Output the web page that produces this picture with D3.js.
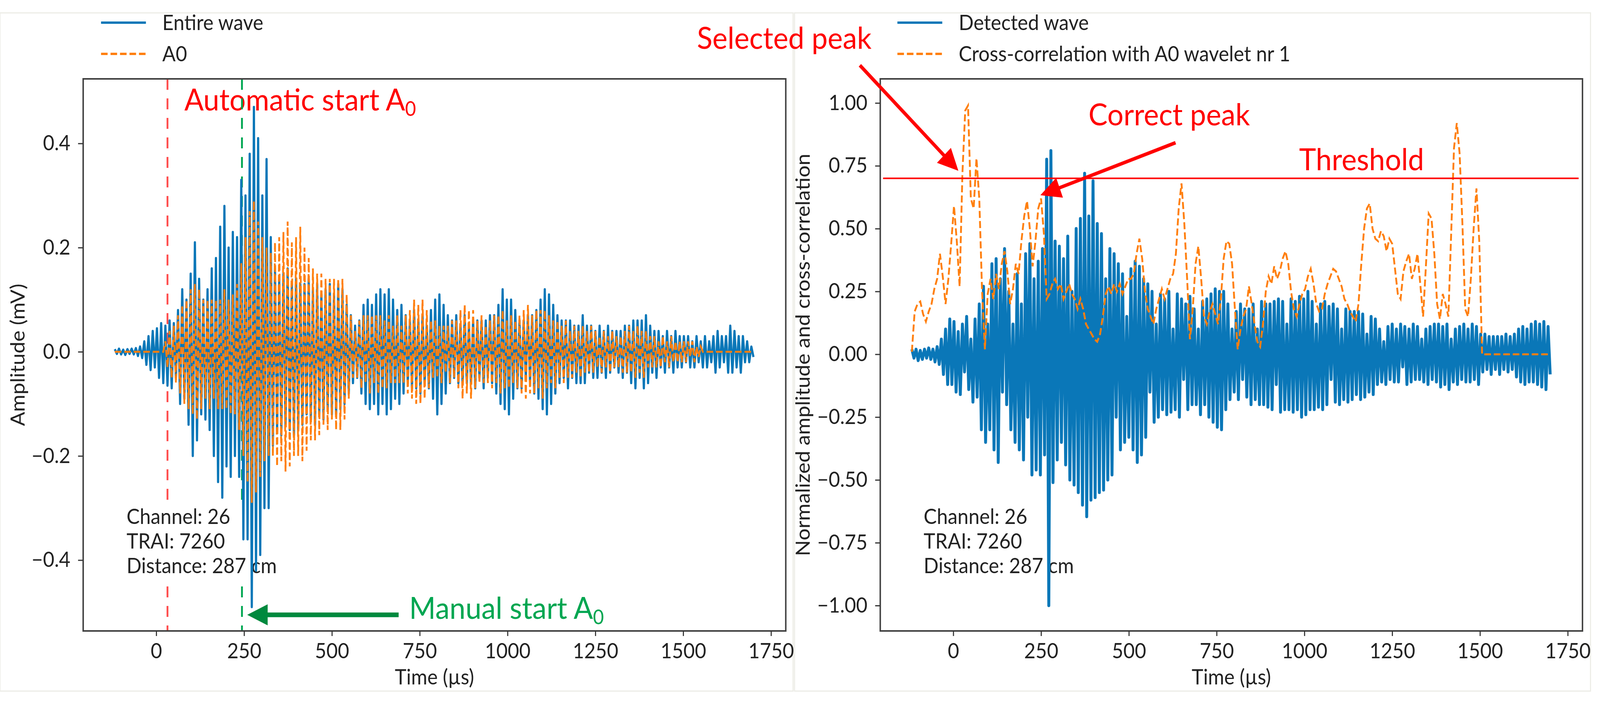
<!DOCTYPE html>
<html>
<head>
<meta charset="utf-8">
<script src="https://cdn.jsdelivr.net/npm/d3@7"></script>
<style>
  html, body { margin: 0; padding: 0; background: #fff; overflow: hidden; }
  #chart { display: block; width: 100vw; height: 100vh; }
  text { font-family: Lato, "Open Sans", sans-serif; }
</style>
</head>
<body>
<svg id="chart" viewBox="0 0 4386 1798" preserveAspectRatio="none"></svg>
<script>
// sampling grid of the traces (microseconds)
var waveStart = -118, waveStep = 6, corrStep = 8;

// left panel: entire wave (mV), one value per 6 us
var entireWave = [
  0.005,-0.004,0.006,-0.005,0.004,-0.006,0.005,-0.004,0.006,-0.005,
  0.007,-0.008,0.01,-0.012,0.02,-0.025,0.03,-0.035,0.04,-0.03,
  0.045,-0.05,0.055,-0.06,0.05,-0.065,0.06,-0.07,0.055,-0.05,
  0.08,-0.1,0.12,-0.09,0.1,-0.14,0.15,-0.2,0.21,-0.17,
  0.14,-0.12,0.1,-0.13,0.12,-0.15,0.16,-0.2,0.18,-0.25,
  0.24,-0.28,0.28,-0.22,0.2,-0.24,0.23,-0.2,0.22,-0.24,
  0.33,-0.36,0.3,-0.36,0.38,-0.49,0.47,-0.42,0.41,-0.39,
  0.3,-0.3,0.37,-0.3,0.22,-0.18,0.16,-0.15,0.14,-0.16,
  0.15,-0.14,0.16,-0.15,0.13,-0.16,0.14,-0.15,0.13,-0.14,
  0.13,-0.12,0.14,-0.13,0.12,-0.14,0.13,-0.12,0.11,-0.13,
  0.12,-0.11,0.13,-0.12,0.11,-0.12,0.13,-0.11,0.12,-0.1,
  0.09,-0.08,0.07,-0.06,0.05,-0.05,0.06,-0.08,0.09,-0.1,
  0.1,-0.11,0.09,-0.1,0.11,-0.12,0.12,-0.1,0.11,-0.12,
  0.12,-0.11,0.1,-0.09,0.08,-0.1,0.09,-0.08,0.07,-0.06,
  0.06,-0.07,0.08,-0.07,0.06,-0.08,0.07,-0.06,0.05,-0.07,
  0.08,-0.09,0.1,-0.12,0.11,-0.1,0.09,-0.08,0.07,-0.06,
  0.06,-0.05,0.07,-0.06,0.05,-0.06,0.07,-0.06,0.05,-0.06,
  0.06,-0.07,0.06,-0.05,0.06,-0.07,0.06,-0.05,0.07,-0.06,
  0.07,-0.08,0.09,-0.1,0.12,-0.11,0.1,-0.12,0.1,-0.09,
  0.08,-0.07,0.06,-0.07,0.06,-0.05,0.07,-0.06,0.07,-0.08,
  0.08,-0.09,0.1,-0.11,0.12,-0.12,0.11,-0.1,0.09,-0.08,
  0.07,-0.06,0.06,-0.05,0.06,-0.07,0.06,-0.05,0.05,-0.06,
  0.05,-0.06,0.07,-0.06,0.05,-0.04,0.05,-0.05,0.04,-0.05,
  0.05,-0.04,0.04,-0.05,0.05,-0.04,0.04,-0.03,0.04,-0.04,
  0.04,-0.05,0.05,-0.04,0.05,-0.06,0.06,-0.07,0.06,-0.05,
  0.06,-0.07,0.07,-0.06,0.05,-0.04,0.04,-0.05,0.04,-0.03,
  0.03,-0.04,0.04,-0.03,0.03,-0.04,0.04,-0.03,0.03,-0.03,
  0.03,-0.02,0.03,-0.03,0.02,-0.03,0.03,-0.02,0.02,-0.03,
  0.03,-0.03,0.02,-0.02,0.03,-0.04,0.04,-0.03,0.03,-0.02,
  0.03,-0.04,0.05,-0.04,0.04,-0.03,0.03,-0.04,0.03,-0.02,
  0.02,-0.02,0.01,-0.01
];

// left panel: A0 part (mV), same grid
var a0Wave = [
  0,0,0,0,0,0,0,0,0,0,
  0,0,0,0,0,0,0,0,0,0,
  0,0,0,0,0.02,-0.03,0.04,-0.05,0.05,-0.06,
  0.07,-0.08,0.09,-0.1,0.1,-0.11,0.12,-0.12,0.13,-0.13,
  0.12,-0.11,0.1,-0.09,0.1,-0.11,0.1,-0.09,0.1,-0.11,
  0.1,-0.11,0.12,-0.11,0.1,-0.12,0.11,-0.12,0.13,-0.15,
  0.17,-0.2,0.22,-0.25,0.27,-0.29,0.29,-0.27,0.25,-0.24,
  0.22,-0.21,0.2,-0.2,0.19,-0.2,0.21,-0.22,0.22,-0.21,
  0.23,-0.23,0.25,-0.22,0.21,-0.2,0.22,-0.2,0.24,-0.21,
  0.2,-0.19,0.18,-0.17,0.16,-0.17,0.15,-0.16,0.15,-0.14,
  0.14,-0.15,0.14,-0.13,0.14,-0.15,0.14,-0.15,0.14,-0.13,
  0.11,-0.09,0.07,-0.05,0.04,-0.05,0.06,-0.07,0.07,-0.06,
  0.07,-0.08,0.07,-0.06,0.07,-0.08,0.07,-0.07,0.06,-0.07,
  0.07,-0.06,0.05,-0.06,0.07,-0.06,0.05,-0.06,0.07,-0.08,
  0.08,-0.09,0.1,-0.1,0.09,-0.1,0.1,-0.09,0.08,-0.07,
  0.06,-0.05,0.06,-0.05,0.05,-0.06,0.05,-0.04,0.05,-0.06,
  0.06,-0.05,0.06,-0.07,0.08,-0.09,0.09,-0.08,0.08,-0.09,
  0.08,-0.07,0.06,-0.06,0.07,-0.06,0.05,-0.06,0.06,-0.07,
  0.07,-0.06,0.07,-0.08,0.08,-0.07,0.06,-0.07,0.07,-0.06,
  0.06,-0.07,0.07,-0.08,0.08,-0.09,0.09,-0.08,0.07,-0.08,
  0.08,-0.07,0.08,-0.09,0.08,-0.07,0.07,-0.06,0.06,-0.07,
  0.06,-0.05,0.05,-0.06,0.06,-0.05,0.04,-0.05,0.05,-0.04,
  0.04,-0.05,0.05,-0.04,0.04,-0.04,0.05,-0.04,0.04,-0.03,
  0.03,-0.04,0.04,-0.03,0.03,-0.04,0.04,-0.03,0.03,-0.03,
  0.03,-0.04,0.04,-0.04,0.05,-0.04,0.04,-0.05,0.05,-0.04,
  0.04,-0.05,0.04,-0.03,0.03,-0.03,0.03,-0.03,0.02,-0.03,
  0.03,-0.02,0.02,-0.03,0.03,-0.02,0.02,-0.02,0.02,-0.02,
  0.02,-0.02,0.02,-0.01,0.02,-0.02,0.01,-0.01,0.01,0,
  0,0,0,0,0,0,0,0,0,0,
  0,0,0,0,0,0,0,0,0,0,
  0,0,0,0
];

// right panel: detected wave (normalized), same grid
var detectedWave = [
  0.02,-0.015,0.02,-0.025,0.015,-0.02,0.02,-0.015,0.025,-0.02,
  0.02,-0.03,0.03,-0.04,0.06,-0.08,0.1,-0.12,0.14,-0.12,
  0.13,-0.15,0.09,-0.16,0.12,-0.07,0.15,-0.14,0.06,-0.19,
  0.14,-0.17,0.2,-0.3,0.27,-0.35,0.12,-0.3,0.36,-0.38,
  0.38,-0.43,0.3,-0.15,0.42,-0.2,0.25,-0.3,0.12,-0.35,
  0.32,-0.38,0.2,-0.42,0.4,-0.25,0.44,-0.48,0.3,-0.46,
  0.37,-0.48,0.42,-0.4,0.776,-1.0,0.81,-0.51,0.45,-0.42,
  0.43,-0.35,0.38,-0.44,0.47,-0.5,0.25,-0.52,0.5,-0.55,
  0.54,-0.6,0.72,-0.646,0.55,-0.58,0.69,-0.57,0.52,-0.55,
  0.48,-0.54,0.3,-0.5,0.42,-0.48,0.4,-0.25,0.36,-0.38,
  0.32,-0.35,0.15,-0.33,0.34,-0.38,0.37,-0.43,0.35,-0.4,
  0.3,-0.33,0.28,-0.15,0.25,-0.27,0.12,-0.25,0.24,-0.22,
  0.22,-0.24,0.25,-0.23,0.1,-0.22,0.24,-0.25,0.22,-0.1,
  0.2,-0.22,0.23,-0.2,0.18,-0.2,0.1,-0.24,0.21,-0.2,
  0.22,-0.25,0.24,-0.27,0.26,-0.29,0.25,-0.3,0.25,-0.22,
  0.2,-0.18,0.1,-0.15,0.17,-0.18,0.2,-0.1,0.18,-0.17,
  0.18,-0.2,0.2,-0.18,0.1,-0.2,0.21,-0.2,0.2,-0.21,
  0.2,-0.22,0.21,-0.12,0.22,-0.23,0.21,-0.22,0.12,-0.22,
  0.22,-0.23,0.21,-0.22,0.23,-0.25,0.22,-0.24,0.25,-0.22,
  0.21,-0.22,0.12,-0.21,0.2,-0.22,0.21,-0.2,0.19,-0.1,
  0.2,-0.19,0.18,-0.2,0.1,-0.18,0.18,-0.19,0.17,-0.18,
  0.17,-0.16,0.17,-0.18,0.16,-0.17,0.08,-0.15,0.15,-0.16,
  0.14,-0.12,0.1,-0.11,0.05,-0.12,0.11,-0.1,0.12,-0.11,
  0.1,-0.11,0.12,-0.05,0.11,-0.12,0.1,-0.11,0.12,-0.1,
  0.11,-0.1,0.06,-0.11,0.1,-0.12,0.11,-0.1,0.12,-0.11,
  0.12,-0.13,0.11,-0.12,0.12,-0.14,0.06,-0.11,0.1,-0.12,
  0.11,-0.1,0.12,-0.11,0.1,-0.11,0.12,-0.1,0.11,-0.12,
  0.08,-0.07,0.08,-0.06,0.07,-0.08,0.07,-0.06,0.07,-0.08,
  0.07,-0.06,0.08,-0.07,0.07,-0.06,0.08,-0.09,0.1,-0.11,
  0.11,-0.12,0.1,-0.11,0.12,-0.11,0.13,-0.12,0.12,-0.13,
  0.13,-0.14,0.11,-0.08
];

// right panel: cross-correlation with A0 wavelet nr 1, one value per 8 us
var crossCorr = [
  0.01,0.17,0.20,0.21,0.16,0.13,0.17,0.20,0.26,0.30,
  0.40,0.31,0.20,0.30,0.44,0.59,0.45,0.27,0.72,0.97,
  0.99,0.62,0.58,0.78,0.62,0.25,0.02,0.24,0.30,0.22,
  0.32,0.26,0.36,0.41,0.33,0.20,0.26,0.36,0.32,0.45,
  0.55,0.61,0.50,0.35,0.45,0.58,0.62,0.48,0.22,0.24,
  0.28,0.30,0.26,0.28,0.22,0.25,0.28,0.24,0.22,0.18,
  0.22,0.18,0.12,0.10,0.08,0.06,0.05,0.08,0.15,0.24,
  0.27,0.24,0.28,0.25,0.28,0.24,0.27,0.30,0.30,0.32,
  0.40,0.46,0.38,0.25,0.18,0.15,0.12,0.18,0.22,0.26,
  0.22,0.26,0.30,0.32,0.40,0.58,0.68,0.52,0.30,0.06,
  0.18,0.36,0.43,0.30,0.15,0.12,0.17,0.20,0.16,0.12,
  0.22,0.38,0.45,0.44,0.36,0.18,0.02,0.10,0.15,0.18,
  0.27,0.20,0.12,0.05,0.03,0.12,0.25,0.31,0.28,0.35,
  0.30,0.33,0.38,0.41,0.36,0.25,0.18,0.15,0.20,0.24,
  0.26,0.31,0.34,0.28,0.20,0.17,0.18,0.24,0.28,0.31,
  0.34,0.33,0.30,0.27,0.22,0.20,0.17,0.15,0.13,0.20,
  0.36,0.50,0.58,0.60,0.50,0.46,0.45,0.49,0.47,0.41,
  0.46,0.44,0.34,0.24,0.22,0.33,0.37,0.40,0.30,0.34,
  0.40,0.28,0.15,0.35,0.56,0.54,0.40,0.20,0.14,0.24,
  0.20,0.15,0.48,0.82,0.92,0.80,0.52,0.18,0.15,0.30,
  0.50,0.66,0.45,0,0,0,0,0,0,0,
  0,0,0,0,0,0,0,0,0,0,
  0,0,0,0,0,0,0,0
];

var timeTicks = [0, 250, 500, 750, 1000, 1250, 1500, 1750];
var ampTicks = [-0.4, -0.2, 0, 0.2, 0.4];
var normTicks = [-1, -0.75, -0.5, -0.25, 0, 0.25, 0.5, 0.75, 1];
var infoLines = ["Channel: 26", "TRAI: 7260", "Distance: 287 cm"];

var autoStart = 32, manualStart = 244, threshold = 0.7;

var blue = "#0a77b8", orange = "#ff7f0e", red = "#ff0000";
var green = "#00a651", darkGreen = "#00893e";

var svg = d3.select("#chart");
var plotTop = 202, plotBottom = 1616;
var xDomain = [-208, 1792];

// size the Calibri-like text by matching one measured width
var probe = svg.append("text").style("font-size", "100px").text("Entire wave");
var k = 277 / probe.node().getComputedTextLength();
probe.remove();
var smallFont = 100 * k;
var bigFont = smallFont * 84 / 57.8;

var panels = [
  {x0: 228, x1: 2154, yDomain: [-0.536, 0.524], ticks: ampTicks, fmt: ".1f", lw: 6,
   title: "Amplitude (mV)", titleX: 67, frame: [0, 33, 2174, 1770]},
  {x0: 2413, x1: 4338, yDomain: [-1.101, 1.096], ticks: normTicks, fmt: ".2f", lw: 8,
   title: "Normalized amplitude and cross-correlation", titleX: 2220, frame: [2178, 33, 4360, 1770]}
];

svg.append("rect").attr("width", 4386).attr("height", 1798).attr("fill", "#fff");

panels.forEach(function(p){
  p.x = d3.scaleLinear().domain(xDomain).range([p.x0, p.x1]);
  p.y = d3.scaleLinear().domain(p.yDomain).range([plotBottom, plotTop]);
  p.g = svg.append("g");
  p.g.append("rect")
    .attr("x", p.frame[0]).attr("y", p.frame[1])
    .attr("width", p.frame[2] - p.frame[0]).attr("height", p.frame[3] - p.frame[1])
    .attr("fill", "#fff").attr("stroke", "#ecece6").attr("stroke-width", 3);
});

var L = panels[0], R = panels[1];

function trace(p, values, step){
  return d3.line()
    .x(function(d, i){ return p.x(waveStart + i * step); })
    .y(function(d){ return p.y(d); })(values);
}

function redText(g, x, y, str, sub, color){
  var t = g.append("text").attr("x", x).attr("y", y)
    .attr("fill", color).style("font-size", bigFont + "px").text(str);
  if(sub){
    t.append("tspan").attr("dy", "0.28em").style("font-size", "0.66em").text(sub);
  }
  return t;
}

function arrow(g, x1, y1, x2, y2, color, shaftW, headL, headW){
  var dx = x2 - x1, dy = y2 - y1, len = Math.sqrt(dx*dx + dy*dy);
  var ux = dx / len, uy = dy / len, nx = -uy, ny = ux;
  var bx = x2 - ux * headL, by = y2 - uy * headL;
  var pts = [
    [x1 + nx*shaftW/2, y1 + ny*shaftW/2],
    [bx + nx*shaftW/2, by + ny*shaftW/2],
    [bx + nx*headW/2, by + ny*headW/2],
    [x2, y2],
    [bx - nx*headW/2, by - ny*headW/2],
    [bx - nx*shaftW/2, by - ny*shaftW/2],
    [x1 - nx*shaftW/2, y1 - ny*shaftW/2]
  ];
  g.append("path").attr("d", "M" + pts.join("L") + "Z").attr("fill", color);
}

// annotation texts sit under the lines
redText(L.g, L.x(80), 283, "Automatic start A", "0", red);
redText(L.g, L.x(720), 1585, "Manual start A", "0", green);
redText(R.g, R.x(-730), 125, "Selected peak", null, red);
redText(R.g, R.x(385), 321, "Correct peak", null, red);
redText(R.g, R.x(985), 436, "Threshold", null, red);

// start markers
[[autoStart, "#ff4d4d"], [manualStart, green]].forEach(function(m){
  L.g.append("line")
    .attr("x1", L.x(m[0])).attr("x2", L.x(m[0]))
    .attr("y1", plotTop).attr("y2", plotBottom)
    .attr("stroke", m[1]).attr("stroke-width", 5).attr("stroke-dasharray", "28,22");
});

// channel info, white box behind
panels.forEach(function(p){
  var info = p.g.append("g");
  var box = info.append("rect").attr("fill", "#fff");
  infoLines.forEach(function(s, i){
    info.append("text").attr("x", p.x0 + 119).attr("y", 1342 + i * 63)
      .attr("fill", "#222").style("font-size", smallFont + "px").text(s);
  });
  var bb = info.node().getBBox();
  box.attr("x", bb.x - 12).attr("y", bb.y - 6).attr("width", bb.width + 24).attr("height", bb.height + 12);
});

// traces
L.g.append("path").attr("d", trace(L, entireWave, waveStep))
  .attr("fill", "none").attr("stroke", blue).attr("stroke-width", L.lw).attr("stroke-linejoin", "round");
L.g.append("path").attr("d", trace(L, a0Wave, waveStep))
  .attr("fill", "none").attr("stroke", orange).attr("stroke-width", 5).attr("stroke-dasharray", "18,8");
R.g.append("path").attr("d", trace(R, detectedWave, waveStep))
  .attr("fill", "none").attr("stroke", blue).attr("stroke-width", R.lw).attr("stroke-linejoin", "round");
R.g.append("path").attr("d", trace(R, crossCorr, corrStep))
  .attr("fill", "none").attr("stroke", orange).attr("stroke-width", 5).attr("stroke-dasharray", "18,8");

// threshold
R.g.append("line")
  .attr("x1", R.x(-200)).attr("x2", R.x(1781))
  .attr("y1", R.y(threshold)).attr("y2", R.y(threshold))
  .attr("stroke", red).attr("stroke-width", 4);

// frames and axes
function styleAxis(sel){
  sel.select(".domain").remove();
  sel.selectAll(".tick line").attr("stroke", "#333").attr("stroke-width", 3);
  sel.selectAll(".tick text").attr("fill", "#222")
    .style("font-size", smallFont + "px").style("font-family", "Lato, sans-serif");
}

panels.forEach(function(p){
  p.g.append("rect")
    .attr("x", p.x0).attr("y", plotTop).attr("width", p.x1 - p.x0).attr("height", plotBottom - plotTop)
    .attr("fill", "none").attr("stroke", "#404040").attr("stroke-width", 4);

  p.g.append("g").attr("transform", "translate(0," + plotBottom + ")")
    .call(d3.axisBottom(p.x).tickValues(timeTicks).tickSize(13).tickPadding(19).tickFormat(d3.format("d")))
    .call(styleAxis);

  p.g.append("g").attr("transform", "translate(" + p.x0 + ",0)")
    .call(d3.axisLeft(p.y).tickValues(p.ticks).tickSize(14).tickPadding(21).tickFormat(d3.format(p.fmt)))
    .call(styleAxis);

  p.g.append("text")
    .attr("x", (p.x0 + p.x1) / 2).attr("y", 1753)
    .attr("text-anchor", "middle").attr("fill", "#222")
    .style("font-size", smallFont + "px").text("Time (\u00b5s)");

  p.g.append("text")
    .attr("transform", "translate(" + p.titleX + "," + (plotTop + plotBottom) / 2 + ") rotate(-90)")
    .attr("text-anchor", "middle").attr("fill", "#222")
    .style("font-size", smallFont + "px").text(p.title);
});

// arrows
arrow(L.g, L.x(690), L.y(-0.505), L.x(259), L.y(-0.505), darkGreen, 12, 56, 54);
arrow(R.g, R.x(-266), R.y(1.15), R.x(14.5), R.y(0.73), red, 9, 56, 54);
arrow(R.g, R.x(633), R.y(0.842), R.x(248), R.y(0.633), red, 9, 56, 54);

// legends above the axes
var legends = [
  {p: L, x: 277, items: [["Entire wave", blue, null], ["A0", orange, "18,8"]]},
  {p: R, x: 2460, items: [["Detected wave", blue, null], ["Cross-correlation with A0 wavelet nr 1", orange, "18,8"]]}
];
legends.forEach(function(lg){
  lg.items.forEach(function(it, i){
    var yy = 58 + i * 80;
    lg.p.g.append("line").attr("x1", lg.x).attr("x2", lg.x + 123).attr("y1", yy).attr("y2", yy)
      .attr("stroke", it[1]).attr("stroke-width", 6).attr("stroke-dasharray", it[2]);
    lg.p.g.append("text").attr("x", lg.x + 168).attr("y", yy).attr("dy", "0.36em")
      .attr("fill", "#222").style("font-size", smallFont + "px").text(it[0]);
  });
});
</script>
</body>
</html>
